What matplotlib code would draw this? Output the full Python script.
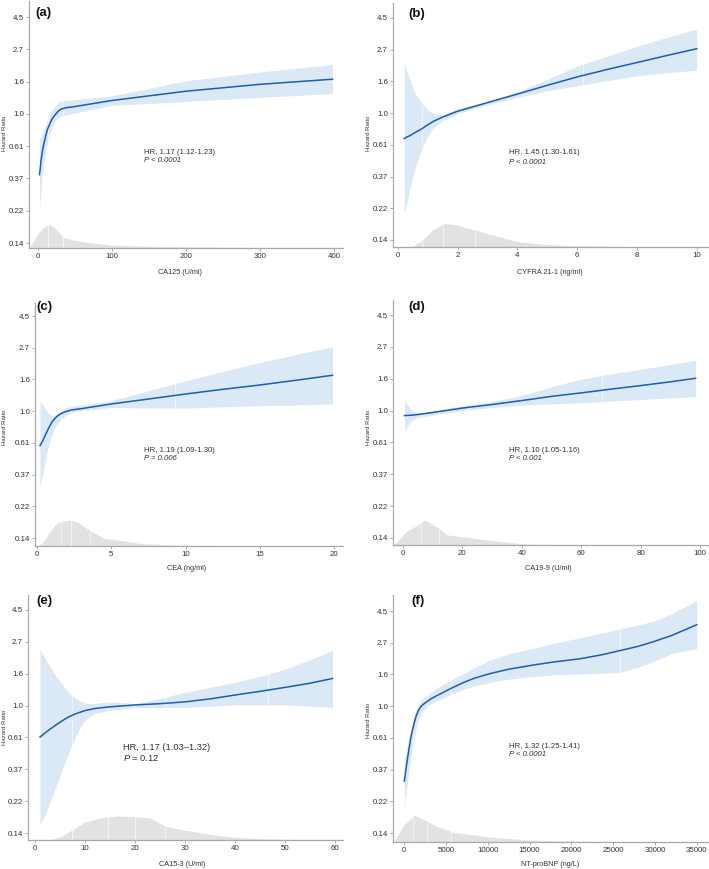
import numpy as np
import matplotlib
matplotlib.use('Agg')
import matplotlib.pyplot as plt

plt.rcParams['font.family'] = ['Liberation Sans', 'DejaVu Sans']
plt.rcParams['mathtext.fontset'] = 'custom'
plt.rcParams['mathtext.it'] = 'Liberation Sans:italic'
plt.rcParams['mathtext.rm'] = 'Liberation Sans'

W, H = 709, 869

# y-axis (hazard ratio, log scale)
hr_ticks = np.exp([1.5, 1.0, 0.5, 0.0, -0.5, -1.0, -1.5, -2.0])
hr_labels = ['4.5', '2.7', '1.6', '1.0', '0.61', '0.37', '0.22', '0.14']

# (a) CA125
a_x = [2, 3, 4, 5, 6, 7, 8, 9.5, 11, 13, 16, 19, 22, 25, 28, 32, 38, 45, 100, 200, 300, 398]
a_hr = [0.39, 0.43, 0.48, 0.52, 0.56, 0.60, 0.63, 0.68, 0.73, 0.79, 0.86, 0.92, 0.97, 1.01,
        1.05, 1.08, 1.10, 1.11, 1.23, 1.42, 1.58, 1.71]
a_hi = [0.68, 0.69, 0.70, 0.72, 0.74, 0.76, 0.78, 0.82, 0.86, 0.92, 1.00, 1.06, 1.11, 1.16,
        1.20, 1.23, 1.24, 1.24, 1.32, 1.67, 1.91, 2.15]
a_lo = [0.226, 0.27, 0.31, 0.36, 0.40, 0.44, 0.48, 0.53, 0.59, 0.66, 0.74, 0.81, 0.87, 0.92,
        0.95, 0.97, 0.99, 1.00, 1.14, 1.21, 1.29, 1.37]
a_dx = [-12, 0.4, 8, 16, 25, 34, 48, 70, 97, 150, 200, 300, 400]
a_dy = [0, 0.06, 0.085, 0.097, 0.075, 0.043, 0.032, 0.022, 0.012, 0.007, 0.005, 0.002, 0.001]

# (b) CYFRA 21-1
b_x = [0.22, 0.3, 0.4, 0.5, 0.6, 0.7, 0.8, 1.0, 1.2, 1.5, 2, 3, 4, 5, 6, 7, 8, 9, 10]
b_hr = [0.67, 0.685, 0.70, 0.72, 0.74, 0.76, 0.78, 0.83, 0.88, 0.94, 1.03, 1.18, 1.35, 1.55,
        1.77, 1.99, 2.22, 2.48, 2.76]
b_hi = [2.22, 1.95, 1.7, 1.5, 1.35, 1.25, 1.18, 1.06, 0.99, 0.97, 1.07, 1.20, 1.40, 1.70,
        2.1, 2.45, 2.87, 3.3, 3.77]
b_lo = [0.207, 0.24, 0.30, 0.36, 0.43, 0.50, 0.57, 0.69, 0.80, 0.88, 0.99, 1.14, 1.28, 1.42,
        1.54, 1.67, 1.80, 1.89, 1.97]
b_dx = [0.2, 0.5, 0.75, 1.0, 1.19, 1.58, 2.0, 2.3, 2.6, 3, 4, 5, 6, 8, 10]
b_dy = [0, 0.003, 0.022, 0.048, 0.072, 0.097, 0.09, 0.078, 0.07, 0.055, 0.022, 0.01, 0.005, 0.002, 0.001]

# (c) CEA
c_x = [0.2, 0.4, 0.6, 0.8, 1.0, 1.2, 1.4, 1.6, 1.9, 2.34, 3, 3.5, 5, 7.5, 10, 12.5, 15, 17.5, 19.9]
c_hr = [0.58, 0.63, 0.70, 0.77, 0.84, 0.89, 0.93, 0.96, 0.99, 1.02, 1.04, 1.06, 1.12, 1.21,
        1.31, 1.41, 1.51, 1.63, 1.76]
c_hi = [1.15, 1.10, 1.02, 0.96, 0.93, 0.94, 0.97, 1.00, 1.05, 1.08, 1.10, 1.12, 1.18, 1.38,
        1.61, 1.87, 2.15, 2.45, 2.76]
c_lo = [0.30, 0.38, 0.48, 0.59, 0.69, 0.77, 0.83, 0.87, 0.93, 0.98, 1.01, 1.02, 1.06, 1.05,
        1.05, 1.07, 1.09, 1.10, 1.12]
c_dx = [0.1, 0.5, 0.8, 1.2, 1.5, 2.3, 2.8, 3.5, 4.5, 5, 7, 10, 15, 20]
c_dy = [0, 0.025, 0.052, 0.085, 0.1, 0.107, 0.095, 0.066, 0.032, 0.028, 0.01, 0.003, 0.001, 0.0]

# (d) CA19-9
d_x = [0.5, 3, 5, 10, 20, 30, 40, 50, 60, 70, 80, 90, 98.5]
d_hr = [0.925, 0.93, 0.94, 0.97, 1.04, 1.10, 1.17, 1.25, 1.32, 1.40, 1.48, 1.57, 1.66]
d_hi = [1.17, 1.0, 0.96, 1.0, 1.08, 1.15, 1.27, 1.45, 1.64, 1.78, 1.91, 2.06, 2.2]
d_lo = [0.73, 0.86, 0.90, 0.93, 1.0, 1.05, 1.09, 1.11, 1.13, 1.16, 1.19, 1.22, 1.24]
d_dx = [-3, 1, 5, 7.5, 12, 15, 20, 30, 40, 50, 100]
d_dy = [0, 0.054, 0.082, 0.102, 0.068, 0.041, 0.034, 0.018, 0.005, 0.002, 0]

# (e) CA15-3
e_x = [1, 2, 3, 4, 5, 6, 7, 8, 9, 10, 11, 12, 13, 15, 17.5, 20, 25, 30, 35, 40, 45, 50, 55, 59.5]
e_hr = [0.61, 0.65, 0.69, 0.73, 0.77, 0.81, 0.845, 0.875, 0.90, 0.925, 0.94, 0.955, 0.965,
        0.98, 0.995, 1.01, 1.03, 1.06, 1.11, 1.18, 1.25, 1.33, 1.42, 1.53]
e_hi = [2.42, 2.1, 1.85, 1.63, 1.46, 1.32, 1.21, 1.13, 1.07, 1.04, 1.03, 1.035, 1.045,
        1.06, 1.05, 1.03, 1.12, 1.23, 1.33, 1.44, 1.58, 1.77, 2.05, 2.38]
e_lo = [0.154, 0.18, 0.22, 0.27, 0.33, 0.41, 0.50, 0.60, 0.71, 0.79, 0.85, 0.88, 0.90,
        0.93, 0.95, 0.97, 0.97, 0.97, 0.99, 1.01, 1.01, 1.01, 0.99, 0.97]
e_dx = [3, 5, 8, 10, 13, 16.5, 20, 23, 26, 30, 35, 40, 45, 50, 55, 60]
e_dy = [0, 0.013, 0.048, 0.073, 0.09, 0.098, 0.095, 0.09, 0.057, 0.04, 0.023, 0.011, 0.006, 0.003, 0.001, 0]

# (f) NT-proBNP
f_x = [40, 200, 400, 600, 800, 1000, 1250, 1500, 1750, 2000, 2310, 2700, 3200, 3800, 4300,
       5000, 5700, 7090, 8500, 10270, 12500, 15650, 18000, 21030, 23500, 25800, 28000, 29780,
       32000, 34970]
f_hr = [0.307, 0.36, 0.43, 0.51, 0.60, 0.68, 0.78, 0.87, 0.94, 0.99, 1.03, 1.07, 1.12, 1.17,
        1.21, 1.27, 1.33, 1.45, 1.56, 1.67, 1.79, 1.92, 2.01, 2.11, 2.24, 2.40, 2.57, 2.76,
        3.05, 3.61]
f_hi = [0.44, 0.48, 0.54, 0.61, 0.69, 0.78, 0.88, 0.96, 1.03, 1.09, 1.14, 1.18, 1.24, 1.31,
        1.37, 1.45, 1.52, 1.66, 1.85, 2.06, 2.28, 2.50, 2.70, 2.94, 3.15, 3.38, 3.6, 3.81,
        4.3, 5.29]
f_lo = [0.195, 0.24, 0.30, 0.37, 0.44, 0.52, 0.62, 0.72, 0.80, 0.88, 0.94, 0.99, 1.04, 1.08,
        1.11, 1.16, 1.21, 1.30, 1.38, 1.45, 1.53, 1.60, 1.64, 1.66, 1.68, 1.70, 1.85, 2.02,
        2.3, 2.47]
f_dx = [-1280, 0, 1200, 2500, 4000, 6000, 8000, 10000, 15000, 20000, 25000, 35000]
f_dy = [0, 0.069, 0.109, 0.089, 0.062, 0.039, 0.03, 0.021, 0.008, 0.004, 0.002, 0.0]

panels = [
    dict(tag='(a)', xlabel='CA125 (U/ml)', xticks=[0, 100, 200, 300, 400],
         x=a_x, hr=a_hr, hi=a_hi, lo=a_lo, dx=a_dx, dy=a_dy, gaps=[13.5, 34],
         hr_text='HR, 1.17 (1.12-1.23)', p_text='P < 0.0001', p_italic=True,
         box=(29, 343, 1, 248), xmap=(38, 0, 334, 400), ymap=(17, 243),
         tagpos=(35, 13), txtpos=(144, 152, 160), xlpos=(180, 273), ylpos=(5, 133), fs=5.6),
    dict(tag='(b)', xlabel='CYFRA 21-1 (ng/ml)', xticks=[0, 2, 4, 6, 8, 10],
         x=b_x, hr=b_hr, hi=b_hi, lo=b_lo, dx=b_dx, dy=b_dy, gaps=[0.8, 1.5, 2.6, 6.2],
         hr_text='HR, 1.45 (1.30-1.61)', p_text='P < 0.0001', p_italic=True,
         box=(393, 708, 3, 247), xmap=(397.7, 0, 696.7, 10), ymap=(18, 240),
         tagpos=(408, 14), txtpos=(509, 153, 162), xlpos=(550, 272), ylpos=(368, 133), fs=5.6),
    dict(tag='(c)', xlabel='CEA (ng/ml)', xticks=[0, 5, 10, 15, 20],
         x=c_x, hr=c_hr, hi=c_hi, lo=c_lo, dx=c_dx, dy=c_dy, gaps=[1.6, 2.3, 3.6, 9.3],
         hr_text='HR, 1.19 (1.09-1.30)', p_text='P = 0.006', p_italic=True,
         box=(35, 343, 303, 546), xmap=(37, 0, 334, 20), ymap=(316, 538),
         tagpos=(36, 307), txtpos=(144, 451, 459), xlpos=(187, 569), ylpos=(5, 427), fs=5.6),
    dict(tag='(d)', xlabel='CA19-9 (U/ml)', xticks=[0, 20, 40, 60, 80, 100],
         x=d_x, hr=d_hr, hi=d_hi, lo=d_lo, dx=d_dx, dy=d_dy, gaps=[6, 12, 67],
         hr_text='HR, 1.10 (1.05-1.16)', p_text='P < 0.001', p_italic=True,
         box=(393, 708, 300, 545), xmap=(403, 0, 700, 100), ymap=(315, 538),
         tagpos=(408, 307), txtpos=(509, 451, 459), xlpos=(548, 569), ylpos=(368, 427), fs=5.6),
    dict(tag='(e)', xlabel='CA15-3 (U/ml)', xticks=[0, 10, 20, 30, 40, 50, 60],
         x=e_x, hr=e_hr, hi=e_hi, lo=e_lo, dx=e_dx, dy=e_dy, gaps=[7.3, 14.5, 20, 26, 46.5],
         hr_text='HR, 1.17 (1.03\u20131.32)', p_text='$\\it{P}$ = 0.12', p_italic=False,
         box=(28, 343, 595, 840), xmap=(35, 0, 335, 60), ymap=(610, 833),
         tagpos=(36, 601), txtpos=(123, 747, 758), xlpos=(182, 864), ylpos=(5, 727), fs=6.7),
    dict(tag='(f)', xlabel='NT-proBNP (ng/L)', xticks=list(range(0, 35001, 5000)),
         x=f_x, hr=f_hr, hi=f_hi, lo=f_lo, dx=f_dx, dy=f_dy, gaps=[1100, 2700, 5600, 25800],
         hr_text='HR, 1.32 (1.25-1.41)', p_text='P < 0.0001', p_italic=True,
         box=(393, 708, 595, 842), xmap=(404, 0, 697, 35000), ymap=(611, 833),
         tagpos=(411, 601), txtpos=(509, 746, 754), xlpos=(550, 864), ylpos=(368, 720), fs=5.6),
]

line_color = '#1b5cb5'
band_color = '#dbe8f6'
dens_color = '#e2e2e2'
spine_color = '#a9a9a9'

fig = plt.figure(figsize=(W / 100, H / 100), dpi=100)

for p in panels:
    l, r, t, b = p['box']
    ax = fig.add_axes([l / W, 1 - b / H, (r - l) / W, (b - t) / H])

    # x limits from pixel mapping
    p0, v0, p1, v1 = p['xmap']
    k = (v1 - v0) / (p1 - p0)
    ax.set_xlim(v0 + (l - p0) * k, v0 + (r - p0) * k)

    # y limits (log) from tick positions
    pt, pb = p['ymap']
    s = 3.5 / (pb - pt)
    ax.set_yscale('log')
    ax.set_ylim(np.exp(-2.0 - (b - pb) * s), np.exp(1.5 + (pt - t) * s))

    # density of the marker (axes-fraction heights)
    ax.fill_between(p['dx'], 0, p['dy'], transform=ax.get_xaxis_transform(),
                    color=dens_color, lw=0, zorder=1)
    ax.fill_between(p['x'], p['lo'], p['hi'], color=band_color, lw=0, zorder=2)
    for g in p['gaps']:
        ax.axvline(g, color='white', lw=0.5, alpha=0.8, zorder=3)
    ax.plot(p['x'], p['hr'], color=line_color, lw=1.1, zorder=4)

    ax.set_yticks(hr_ticks)
    ax.set_yticklabels(hr_labels)
    ax.yaxis.set_minor_locator(matplotlib.ticker.NullLocator())
    ax.set_xticks(p['xticks'])
    ax.tick_params(labelsize=5.7, length=2, width=0.5, color='#888888',
                   labelcolor='#333333', pad=1.5)
    for side in ['top', 'right']:
        ax.spines[side].set_visible(False)
    for side in ['left', 'bottom']:
        ax.spines[side].set_color(spine_color)
        ax.spines[side].set_linewidth(0.9)

    tx, ty = p['tagpos']
    fig.text(tx / W, 1 - ty / H, p['tag'], fontsize=9.5, fontweight='bold',
             va='center', ha='left', color='#111111')
    hx, hy, py = p['txtpos']
    fig.text(hx / W, 1 - hy / H, p['hr_text'], fontsize=p['fs'], va='center',
             ha='left', color='#333333')
    fig.text(hx / W, 1 - py / H, p['p_text'], fontsize=p['fs'], va='center',
             ha='left', color='#333333',
             fontstyle='italic' if p['p_italic'] else 'normal')
    lx, ly = p['xlpos']
    fig.text(lx / W, 1 - ly / H, p['xlabel'], fontsize=5.2, va='center', ha='center',
             color='#333333')
    yx, yy = p['ylpos']
    fig.text(yx / W, 1 - yy / H, 'Hazard Ratio', fontsize=4.3, va='center', ha='center',
             rotation=90, color='#333333',
             family=['Liberation Sans Narrow', 'Liberation Sans', 'DejaVu Sans'])

fig.savefig('out.png', dpi=100)
